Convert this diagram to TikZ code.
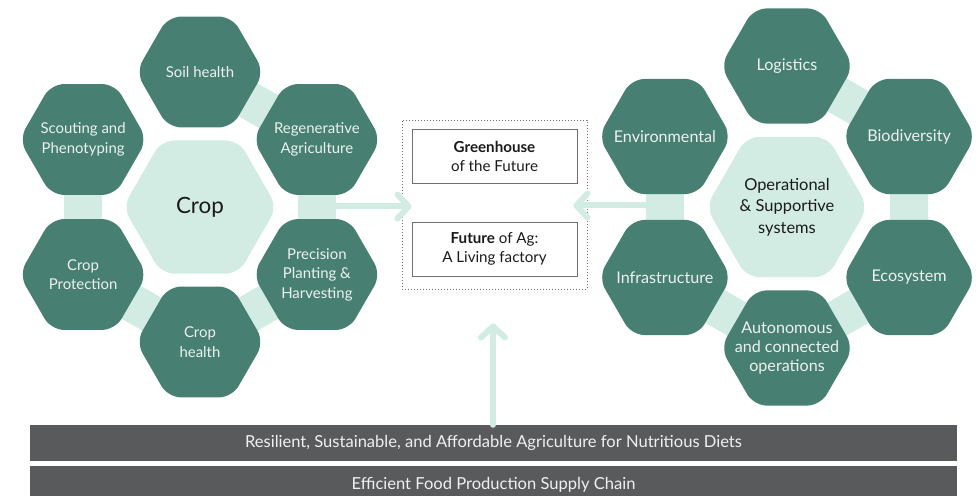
\documentclass[tikz,border=0pt]{standalone}
\usepackage{fontspec}
\setmainfont{Lato}
\usetikzlibrary{shapes.geometric,arrows.meta,calc}

\definecolor{hexdark}{RGB}{72,127,115}
\definecolor{hexlight}{RGB}{210,236,228}
\definecolor{hexink}{RGB}{236,242,240}
\definecolor{barfill}{RGB}{89,90,92}
\definecolor{barink}{RGB}{240,240,240}
\definecolor{boxline}{RGB}{112,112,112}
\definecolor{darkink}{RGB}{26,26,26}

\pgfdeclarelayer{bg}
\pgfsetlayers{bg,main}

\tikzset{
  hexa/.style={regular polygon, regular polygon sides=6, fill=hexdark,
    rounded corners=13bp, inner sep=0pt, outer sep=0pt},
  hexcore/.style={hexa, fill=hexlight},
  hextxt/.style={text=hexink, align=center, inner sep=0pt,
    font=\fontsize{15}{19.5}\selectfont},
  hextxtr/.style={hextxt, font=\fontsize{16.2}{19.2}\selectfont},
  coretxt/.style={text=darkink, align=center, inner sep=0pt},
  band/.style={draw=hexlight, line width=38bp},
  flow/.style={draw=hexlight, line width=6bp, line cap=round,
    -{Straight Barb[round, length=11bp, width=24bp]}},
  outerframe/.style={draw=boxline, line width=0.9bp,
    dash pattern=on 1.2bp off 1.8bp, minimum width=185bp, minimum height=169bp},
  goalbox/.style={draw=boxline, line width=0.9bp, minimum width=165bp,
    minimum height=54bp, align=center, text=darkink,
    font=\fontsize{15.2}{19}\selectfont},
  bar/.style={fill=barfill, text=barink, minimum width=927bp, inner sep=0pt,
    font=\fontsize{16.6}{19}\selectfont},
}

\begin{document}
\begin{tikzpicture}[x=1bp, y=-1bp]
\useasboundingbox (0,0) rectangle (977,496);

% ---------- crop cluster ----------
\node[hexcore, minimum size=154bp] (crop) at (200,207) {};
\node[coretxt, font=\fontsize{22.5}{26}\selectfont] (crop-t) at (crop.center) {Crop};

\node[hexa, minimum size=128bp] (soil)  at (200,72)      {};
\node[hexa, minimum size=128bp] (regen) at (316.9,139.5) {};
\node[hexa, minimum size=128bp] (prec)  at (316.9,274.5) {};
\node[hexa, minimum size=128bp] (chlth) at (200,342)     {};
\node[hexa, minimum size=128bp] (cprot) at (83.1,274.5)  {};
\node[hexa, minimum size=128bp] (scout) at (83.1,139.5)  {};

\node[hextxt] (soil-t)  at (soil.center)  {Soil health};
\node[hextxt] (regen-t) at (regen.center) {Regenerative\\Agriculture};
\node[hextxt] (prec-t)  at (prec.center)  {Precision\\Planting \&\\Harvesting};
\node[hextxt] (chlth-t) at (chlth.center) {Crop\\health};
\node[hextxt] (cprot-t) at (cprot.center) {Crop\\Protection};
\node[hextxt] (scout-t) at (scout.center) {Scouting and\\Phenotyping};

% ---------- operational cluster ----------
\node[hexcore, minimum size=162bp] (ops) at (787,207) {};
\node[coretxt, font=\fontsize{16.5}{21.5}\selectfont] (ops-t) at (ops.center)
  {Operational\\\& Supportive\\systems};

\node[hexa, minimum size=133bp] (logi)  at (787,66)      {};
\node[hexa, minimum size=133bp] (biod)  at (909.1,136.5) {};
\node[hexa, minimum size=133bp] (ecos)  at (909.1,277.5) {};
\node[hexa, minimum size=133bp] (auto)  at (787,348)     {};
\node[hexa, minimum size=133bp] (infra) at (664.9,277.5) {};
\node[hexa, minimum size=133bp] (env)   at (664.9,136.5) {};

\node[hextxtr] (logi-t)  at (logi.center)  {Logistics};
\node[hextxtr] (biod-t)  at (biod.center)  {Biodiversity};
\node[hextxtr] (ecos-t)  at (ecos.center)  {Ecosystem};
\node[hextxtr] (auto-t)  at (auto.center)  {Autonomous\\and connected\\operations};
\node[hextxtr] (infra-t) at (infra.center) {Infrastructure};
\node[hextxtr] (env-t)   at (env.center)   {Environmental};

% ---------- links between neighbouring cells ----------
\begin{pgfonlayer}{bg}
  \draw[band] (soil.center) -- (regen.center) -- (prec.center) -- (chlth.center)
              -- (cprot.center) -- (scout.center);
  \draw[band] (logi.center) -- (biod.center) -- (ecos.center) -- (auto.center)
              -- (infra.center) -- (env.center);
\end{pgfonlayer}

% ---------- goal frame ----------
\node[outerframe] (frame) at (494.5,204.5) {};
\node[goalbox] (ghouse) at (494.5,156) {\textbf{Greenhouse}\\of the Future};
\node[goalbox] (future) at (494.5,249) {\textbf{Future} of Ag:\\A Living factory};

% ---------- foundation bars ----------
\node[bar, minimum height=36bp] (bar1) at (493.5,443)
  {Resilient, Sustainable, and Affordable Agriculture for Nutritious Diets};
\node[bar, minimum height=38bp] (bar2) at (493.5,485) {};
\node[text=barink, inner sep=0pt, font=\fontsize{16.6}{19}\selectfont] (bar2-t)
  at (493.5,485) {Efficient Food Production Supply Chain};

% ---------- arrows into the frame ----------
\coordinate (ltip) at ($(frame.west)+(10,2)$);
\coordinate (rtip) at ($(frame.east)+(-14,1)$);
\coordinate (utip) at ($(frame.south)+(-1.5,34)$);
\coordinate (rp) at ($(regen.center)!0.5!(prec.center)$);
\coordinate (ei) at ($(env.center)!0.5!(infra.center)$);

\draw[flow] (ltip -| rp) -- (ltip);
\draw[flow] (rtip -| ei) -- (rtip);
\draw[flow] (bar1.north -| utip) -- (utip);
\end{tikzpicture}
\end{document}
